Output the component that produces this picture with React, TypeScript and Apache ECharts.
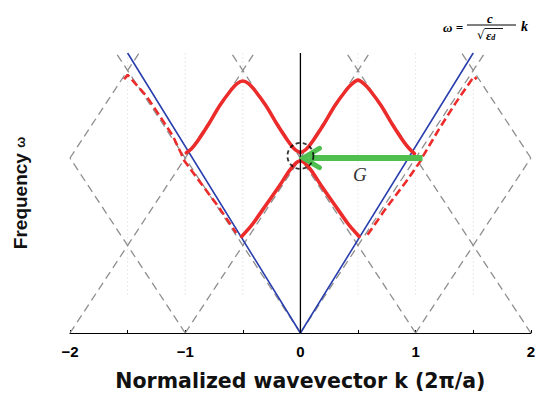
import React, { useEffect, useRef } from "react";
import * as echarts from "echarts";

// ---- data ----
const xTickLabels: Record<string, string> = { "-2": "−2", "-1": "−1", "0": "0", "1": "1", "2": "2" };

// folded light lines (gray dashed), as [start, end]
const grayLines: number[][][] = [
  [[-2, 0], [-0.4, 1.6]],
  [[-1, 0], [-2, 1]],
  [[-1, 0], [0.6, 1.6]],
  [[0, 0], [-1.6, 1.6]],
  [[0, 0], [1.6, 1.6]],
  [[1, 0], [-0.6, 1.6]],
  [[1, 0], [2, 1]],
  [[2, 0], [0.4, 1.6]],
  [[-2, 1], [-1.4, 1.6]],
  [[2, 1], [1.4, 1.6]],
];

// light line in the medium (blue)
const blueLine = [[-1.5, 1.6], [0, 0], [1.5, 1.6]];

// band structure (red solid)
const upperBandLeft = [
  [-0.99, 1.03], [-0.95, 1.05], [-0.9, 1.09], [-0.8, 1.19], [-0.7, 1.3], [-0.6, 1.39],
  [-0.55, 1.425], [-0.5, 1.44], [-0.45, 1.425], [-0.4, 1.39], [-0.3, 1.3], [-0.2, 1.19],
  [-0.1, 1.09], [-0.05, 1.05], [0, 1.03],
];
const upperBandRight = [
  [0, 1.03], [0.05, 1.05], [0.1, 1.09], [0.2, 1.19], [0.3, 1.3], [0.4, 1.39],
  [0.45, 1.425], [0.5, 1.445], [0.55, 1.425], [0.6, 1.39], [0.7, 1.3], [0.8, 1.19],
  [0.9, 1.09], [0.95, 1.05], [0.99, 1.025],
];
const lowerBandLeft = [
  [-0.51, 0.552], [-0.45, 0.595], [-0.41, 0.627], [-0.3, 0.73], [-0.18, 0.843],
  [-0.095, 0.928], [-0.037, 0.972], [0, 0.985],
];
const lowerBandRight = [
  [0, 0.985], [0.037, 0.972], [0.095, 0.928], [0.18, 0.843], [0.3, 0.73],
  [0.41, 0.627], [0.45, 0.595], [0.51, 0.552],
];

// red dashed branches
const redDashedLeft = [
  [-1.53, 1.45], [-1.5, 1.475], [-1.336, 1.353], [-1.221, 1.24], [-1.108, 1.127],
  [-1.033, 1.023], [-1.02, 0.995], [-0.874, 0.865], [-0.701, 0.712], [-0.557, 0.571],
];
const redDashedRight = [
  [0.583, 0.561], [0.742, 0.712], [0.915, 0.863], [1.045, 0.985], [1.059, 1.005],
  [1.203, 1.165], [1.348, 1.315], [1.506, 1.466], [1.53, 1.45],
];

// dotted vertical guides
const guideXs = [-1.5, -1, -0.5, 0.5, 1, 1.5];
const guideRange = [0.22, 1.6];

// k = 0 vertical line
const zeroLine = [[0, 0], [0, 1.6]];

// reciprocal-lattice vector arrow G
const arrowShaft = [[1.06, 1.0], [0.07, 1.0]];
const arrowHead = [[0.165, 1.055], [0.025, 1.0], [0.165, 0.945]];

// dashed circle at the gap
const gapCircle = [[0, 1.012]];

const RED = "#ec2b2b";

function lineSeries(data: number[][], lineStyle: any, z = 2) {
  return {
    type: "line",
    data,
    symbol: "none",
    showSymbol: false,
    silent: true,
    animation: false,
    z,
    lineStyle,
  };
}

const F = { fontFamily: "Liberation Serif", fontStyle: "italic", fontWeight: "bold", fill: "#000" };

export default function App() {
  const ref = useRef<HTMLDivElement>(null);
  useEffect(() => {
    if (!ref.current) return;
    const chart = echarts.init(ref.current, undefined, { renderer: "svg" });
    const series: any[] = [];
    guideXs.forEach((x) =>
      series.push(lineSeries([[x, guideRange[0]], [x, guideRange[1]]], { color: "#d6d6d6", width: 1, type: [1, 3] }, 1))
    );
    grayLines.forEach((seg) =>
      series.push(lineSeries(seg, { color: "#8e8e8e", width: 1.3, type: [8, 5] }, 2))
    );
    series.push(lineSeries(blueLine, { color: "#2a3fae", width: 1.6 }, 3));
    series.push(lineSeries(redDashedLeft, { color: RED, width: 2.6, type: [8, 4] }, 4));
    series.push(lineSeries(redDashedRight, { color: RED, width: 2.6, type: [8, 4] }, 4));
    [upperBandLeft, upperBandRight, lowerBandLeft, lowerBandRight].forEach((d) => {
      const s: any = lineSeries(d, { color: RED, width: 3.6, cap: "round" }, 5);
      s.smooth = 0.3;
      series.push(s);
    });
    series.push(lineSeries(zeroLine, { color: "#000", width: 1.3 }, 6));
    series.push(lineSeries(arrowShaft, { color: "#4fc04f", width: 6 }, 7));
    series.push(lineSeries(arrowHead, { color: "#4fc04f", width: 5, join: "miter", cap: "round" }, 7));
    series.push({
      type: "scatter",
      data: gapCircle,
      symbol: "circle",
      symbolSize: 26,
      silent: true,
      z: 8,
      itemStyle: { color: "rgba(0,0,0,0)", borderColor: "#000", borderWidth: 1.8, borderType: [4, 3] },
    });

    chart.setOption({
      animation: false,
      grid: { left: 70, right: 6, top: 53, bottom: 60 },
      xAxis: {
        type: "value",
        min: -2,
        max: 2,
        interval: 0.5,
        name: "Normalized wavevector k (2π/a)",
        nameLocation: "middle",
        nameGap: 37,
        nameTextStyle: { fontFamily: "DejaVu Sans", fontSize: 20.5, fontWeight: "bold", color: "#111" },
        axisLine: { lineStyle: { color: "#000", width: 1.2 } },
        axisTick: { inside: true, length: 3, lineStyle: { color: "#000" } },
        axisLabel: {
          margin: 11,
          fontFamily: "Liberation Sans",
          fontSize: 15,
          fontWeight: "bold",
          color: "#000",
          formatter: (v: number) => xTickLabels[String(v)] ?? "",
        },
        splitLine: { show: false },
      },
      yAxis: {
        type: "value",
        min: 0,
        max: 1.6,
        name: "Frequency {w|ω}",
        nameLocation: "middle",
        nameRotate: 90,
        nameGap: 40,
        nameTextStyle: {
          fontFamily: "Liberation Sans",
          fontSize: 19,
          fontWeight: "bold",
          color: "#111",
          rich: { w: { fontFamily: "Liberation Sans", fontSize: 13, color: "#111" } },
        },
        axisLine: { show: false },
        axisTick: { show: false },
        axisLabel: { show: false },
        splitLine: { show: false },
      },
      graphic: [
        {
          type: "text",
          left: 353,
          top: 165,
          style: { text: "G", fontFamily: "Liberation Serif", fontStyle: "italic", fontSize: 19, fill: "#333" },
        },
        { type: "text", x: 443, y: 27, style: { ...F, text: "ω =", fontSize: 13, verticalAlign: "middle" } },
        { type: "text", x: 490, y: 18, style: { ...F, text: "c", fontSize: 13, align: "center", verticalAlign: "middle" } },
        { type: "line", shape: { x1: 467, y1: 25, x2: 516, y2: 25 }, style: { stroke: "#000", lineWidth: 1 } },
        {
          type: "text",
          x: 477,
          y: 35,
          style: { text: "√", fontFamily: "DejaVu Sans", fontSize: 12, fill: "#000", verticalAlign: "middle" },
        },
        { type: "line", shape: { x1: 484.5, y1: 28.5, x2: 503, y2: 28.5 }, style: { stroke: "#000", lineWidth: 0.9 } },
        {
          type: "text",
          x: 486,
          y: 35,
          style: {
            ...F,
            text: "ε{d|d}",
            fontSize: 13,
            verticalAlign: "middle",
            rich: { d: { fontSize: 8, fontStyle: "italic", fontWeight: "bold", fontFamily: "Liberation Serif", padding: [5, 0, 0, 0] } },
          },
        },
        { type: "text", x: 521, y: 26, style: { ...F, text: "k", fontSize: 14, verticalAlign: "middle" } },
      ],
      series,
    });
    return () => chart.dispose();
  }, []);
  return <div ref={ref} style={{ position: "fixed", left: 0, top: 0, width: 538, height: 396, background: "#fff" }} />;
}
